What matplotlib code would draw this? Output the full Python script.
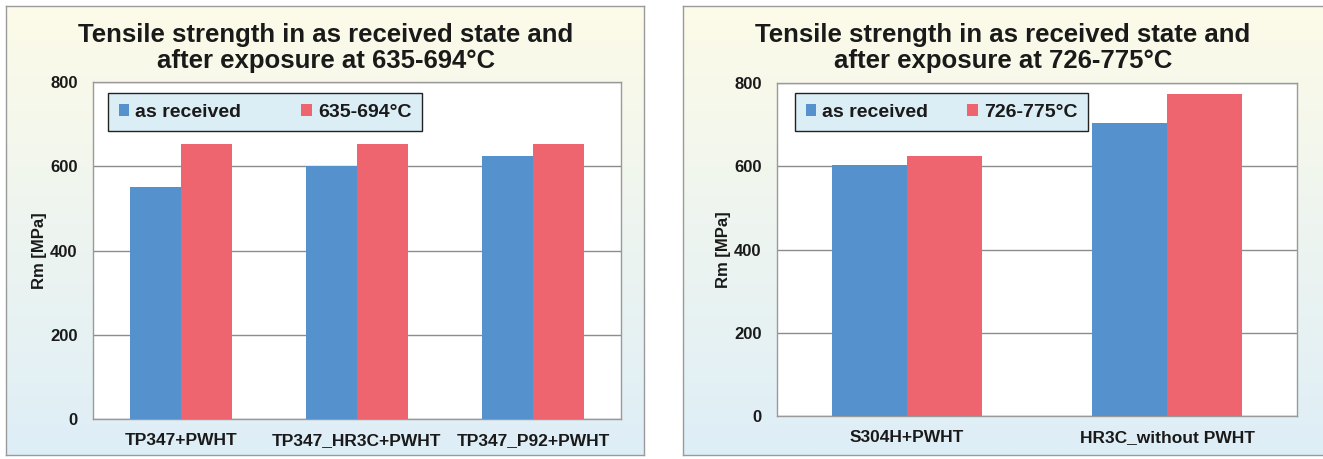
import numpy as np
import matplotlib.pyplot as plt

plt.rcParams['font.family'] = ['Liberation Sans', 'DejaVu Sans']
plt.rcParams['font.weight'] = 'bold'

# left chart data
left_title = 'Tensile strength in as received state and\nafter exposure at 635-694°C'
left_cats = ['TP347+PWHT', 'TP347_HR3C+PWHT', 'TP347_P92+PWHT']
left_received = [551, 601, 624]
left_exposed = [652, 654, 652]
left_labels = ['as received', '635-694°C']

# right chart data
right_title = 'Tensile strength in as received state and\nafter exposure at 726-775°C'
right_cats = ['S304H+PWHT', 'HR3C_without PWHT']
right_received = [603, 704]
right_exposed = [625, 774]
right_labels = ['as received', '726-775°C']

yticks = [0, 200, 400, 600, 800]
BLUE = '#5592cd'
RED = '#ee6570'

W, H = 1323, 459
fig = plt.figure(figsize=(W / 100, H / 100), dpi=100)
fig.patch.set_facecolor('white')


def px(x0, y0, x1, y1):
    # pixel box (top-left origin) -> figure rect
    return [x0 / W, 1 - y1 / H, (x1 - x0) / W, (y1 - y0) / H]


def panel_bg(rect):
    bg = fig.add_axes(rect, zorder=0)
    top = np.array([253, 251, 232]) / 255
    bot = np.array([222, 238, 247]) / 255
    t = np.linspace(0, 1, 256)[:, None]
    grad = top[None, :] * (1 - t) + bot[None, :] * t
    bg.imshow(grad[:, None, :], aspect='auto', extent=[0, 1, 0, 1])
    bg.set_xticks([])
    bg.set_yticks([])
    for s in bg.spines.values():
        s.set_color('#9a9a9a')
        s.set_linewidth(1.0)


def draw(box, cats, rec, exp, labels, title, bw, leg_box, title_xy):
    x0, y0, x1, y1 = box
    ax = fig.add_axes(px(*box), zorder=2)
    x = np.arange(len(cats))
    ax.bar(x - bw / 2, rec, bw, color=BLUE, label=labels[0], zorder=3)
    ax.bar(x + bw / 2, exp, bw, color=RED, label=labels[1], zorder=3)
    ax.set_xlim(-0.5, len(cats) - 0.5)
    ax.set_ylim(0, 800)
    ax.set_yticks(yticks)
    ax.set_xticks(x)
    ax.set_xticklabels(cats)
    ax.tick_params(axis='both', length=0, colors='#1a1a1a')
    ax.tick_params(axis='x', pad=10, labelsize=12.5)
    ax.tick_params(axis='y', pad=11, labelsize=12)
    ax.yaxis.grid(True, color='#8c8c8c', linewidth=1.0, zorder=0)
    ax.set_axisbelow(True)
    for s in ax.spines.values():
        s.set_color('#9a9a9a')
        s.set_linewidth(1.0)
    ax.set_ylabel('Rm [MPa]', fontsize=12, fontweight='bold', color='#1a1a1a')
    ax.yaxis.set_label_coords(-46 / (x1 - x0), 0.5)

    lx0, ly0, lx1, ly1 = leg_box
    anchor = ((lx0 - x0) / (x1 - x0), (y1 - ly0) / (y1 - y0), (lx1 - lx0) / (x1 - x0), 0)
    leg = ax.legend(loc='upper left', bbox_to_anchor=anchor, ncol=2,
                    fontsize=14, frameon=True, fancybox=False,
                    handlelength=0.55, handleheight=0.55, handletextpad=0.3,
                    columnspacing=1.2, borderpad=0.55, borderaxespad=0,
                    mode='expand')
    fr = leg.get_frame()
    fr.set_facecolor('#dbedf5')
    fr.set_edgecolor('#222222')
    fr.set_linewidth(1.0)
    fr.set_alpha(1)
    for tx in leg.get_texts():
        tx.set_fontweight('bold')
        tx.set_color('#1a1a1a')
    fig.text(title_xy[0] / W, 1 - title_xy[1] / H, title, ha='center', va='center',
             fontsize=18.5, fontweight='bold', color='#1a1a1a', linespacing=1.1)
    return ax


panel_bg(px(6, 6, 644, 455))
panel_bg(px(683, 6, 1330, 455))

draw((93, 82, 621, 419), left_cats, left_received, left_exposed, left_labels,
     left_title, 0.29, (108, 93, 422, 133), (326, 48))

draw((777, 83, 1297, 416), right_cats, right_received, right_exposed, right_labels,
     right_title, 0.288, (795, 93, 1088, 132), (1003, 48))

fig.savefig('out.png', dpi=100)
